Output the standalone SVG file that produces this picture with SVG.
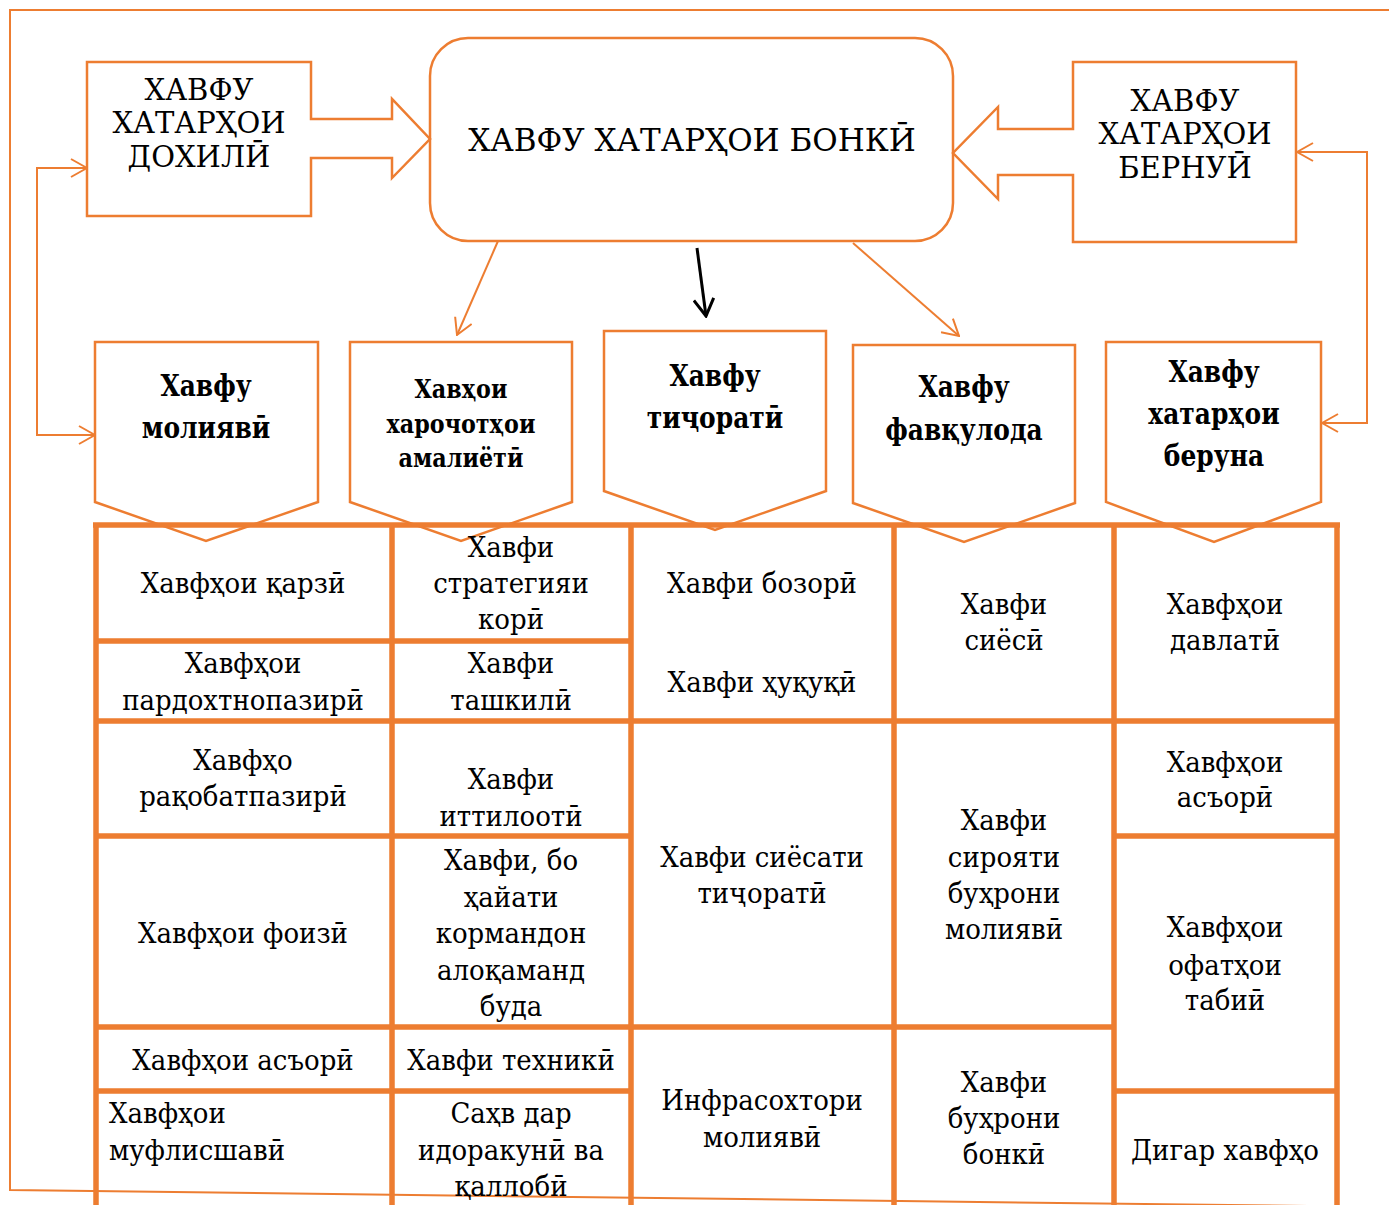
<svg xmlns="http://www.w3.org/2000/svg" width="1389" height="1205" viewBox="0 0 1389 1205">
<style>
.o{fill:none;stroke:#ED7D31;stroke-width:2.5}
.frame{fill:none;stroke:#ED7D31;stroke-width:2}
.tb{fill:none;stroke:#ED7D31;stroke-width:5.5}
text{font-family:'DejaVu Serif','Liberation Serif',serif;fill:#000}
.cap{font-size:29px;text-anchor:middle}
.hd{font-size:29px;font-weight:bold;text-anchor:middle}
.hs{font-size:26.5px;font-weight:bold;text-anchor:middle}
.c{font-size:28px;text-anchor:middle}
.cl{font-size:28px}
.con{fill:none;stroke:#ED7D31;stroke-width:2}
</style>
<defs>
<marker id="ah" viewBox="0 0 18 20" refX="17" refY="10" markerWidth="18" markerHeight="20" markerUnits="userSpaceOnUse" orient="auto-start-reverse">
<path d="M1,1 L17,10 L1,19" fill="none" stroke="#ED7D31" stroke-width="2"/>
</marker>
<marker id="ahb" viewBox="0 0 20 22" refX="18" refY="11" markerWidth="20" markerHeight="22" markerUnits="userSpaceOnUse" orient="auto">
<path d="M1,1 L18,11 L1,21" fill="none" stroke="#000" stroke-width="3"/>
</marker>
</defs>
<rect width="1389" height="1205" fill="#fff"/>
<g id="frame">
<path class="frame" d="M1389,10 H10 V1190 L1389,1207"/>
</g>
<g id="table">
<path class="tb" d="M96,525 V1205 M392,525 V1205 M631,525 V1205 M894,525 V1205 M1114,525 V1205 M1337,525 V1205"/>
<path class="tb" d="M93,525 H1340 M96,641 H631 M96,721 H1337 M96,836 H631 M1114,836 H1337 M96,1027 H1114 M96,1091 H631 M1114,1091 H1337"/>
</g>
<g id="node-bank">
<rect class="o" x="430" y="38" width="523" height="203" rx="38"/>
<text class="cap" x="692" y="151" style="font-size:31px">ХАВФУ ХАТАРҲОИ БОНКӢ</text>
</g>
<g id="node-internal">
<path class="o" d="M87,62 H311 V119 H392 V99 L430,139 L392,178 V158 H311 V216 H87 Z"/>
<text class="cap" x="199" y="100">ХАВФУ</text>
<text class="cap" x="199" y="133">ХАТАРҲОИ</text>
<text class="cap" x="199" y="167">ДОХИЛӢ</text>
</g>
<g id="node-external">
<path class="o" d="M1073,62 H1296 V242 H1073 V175 H998 V199 L953,153 L998,107 V129 H1073 Z"/>
<text class="cap" x="1185" y="111">ХАВФУ</text>
<text class="cap" x="1185" y="144">ХАТАРҲОИ</text>
<text class="cap" x="1185" y="178">БЕРНУӢ</text>
</g>
<g id="node-financial">
<path class="o" d="M95,342 H318 V502 L206,541 L95,502 Z"/>
<g transform="translate(206,0) scale(0.86,1)">
<text class="hd" x="0" y="396">Хавфу</text>
<text class="hd" x="0" y="438">молиявӣ</text>
</g>
</g>
<g id="node-operational">
<path class="o" d="M350,342 H572 V502 L461,541 L350,502 Z"/>
<g transform="translate(461,0) scale(0.84,1)">
<text class="hs" x="0" y="398">Хавҳои</text>
<text class="hs" x="0" y="433">харочотҳои</text>
<text class="hs" x="0" y="467">амалиётӣ</text>
</g>
</g>
<g id="node-commercial">
<path class="o" d="M604,331 H826 V491 L715,530 L604,491 Z"/>
<g transform="translate(715,0) scale(0.86,1)">
<text class="hd" x="0" y="386">Хавфу</text>
<text class="hd" x="0" y="428">тиҷоратӣ</text>
</g>
</g>
<g id="node-emergency">
<path class="o" d="M853,345 H1075 V503 L964,542 L853,503 Z"/>
<g transform="translate(964,0) scale(0.86,1)">
<text class="hd" x="0" y="397">Хавфу</text>
<text class="hd" x="0" y="440">фавқулода</text>
</g>
</g>
<g id="node-outer">
<path class="o" d="M1106,342 H1321 V502 L1214,542 L1106,502 Z"/>
<g transform="translate(1214,0) scale(0.86,1)">
<text class="hd" x="0" y="382">Хавфу</text>
<text class="hd" x="0" y="424">хатарҳои</text>
<text class="hd" x="0" y="466">беруна</text>
</g>
</g>
<g id="connectors">
<path class="con" d="M87,168 H37 V435 H95" marker-start="url(#ah)" marker-end="url(#ah)"/>
<path class="con" d="M1297,152 H1367 V423 H1322" marker-start="url(#ah)" marker-end="url(#ah)"/>
<path class="con" d="M498,241 L457,335" marker-end="url(#ah)"/>
<path class="con" d="M853,243 L959,336" marker-end="url(#ah)"/>
<path d="M697,248 L706,316" fill="none" stroke="#000" stroke-width="3" marker-end="url(#ahb)"/>
</g>
<g id="cells" transform="scale(0.93,1)">
<text class="c" x="261.3" y="593">Хавфҳои қарзӣ</text>
<text class="c" x="549.5" y="557">Хавфи</text>
<text class="c" x="549.5" y="593">стратегияи</text>
<text class="c" x="549.5" y="629">корӣ</text>
<text class="c" x="261.3" y="673">Хавфҳои</text>
<text class="c" x="261.3" y="710">пардохтнопазирӣ</text>
<text class="c" x="549.5" y="673">Хавфи</text>
<text class="c" x="549.5" y="710">ташкилӣ</text>
<text class="c" x="261.3" y="770">Хавфҳо</text>
<text class="c" x="261.3" y="806">рақобатпазирӣ</text>
<text class="c" x="549.5" y="789">Хавфи</text>
<text class="c" x="549.5" y="826">иттилоотӣ</text>
<text class="c" x="261.3" y="943">Хавфҳои фоизӣ</text>
<text class="c" x="549.5" y="870">Хавфи, бо</text>
<text class="c" x="549.5" y="907">ҳайати</text>
<text class="c" x="549.5" y="943">кормандон</text>
<text class="c" x="549.5" y="980">алоқаманд</text>
<text class="c" x="549.5" y="1016">буда</text>
<text class="c" x="261.3" y="1070">Хавфҳои асъорӣ</text>
<text class="c" x="549.5" y="1070">Хавфи техникӣ</text>
<text class="cl" x="117.2" y="1123">Хавфҳои</text>
<text class="cl" x="117.2" y="1160">муфлисшавӣ</text>
<text class="c" x="549.5" y="1123">Саҳв дар</text>
<text class="c" x="549.5" y="1160">идоракунӣ ва</text>
<text class="c" x="549.5" y="1196">қаллобӣ</text>
<text class="c" x="819.4" y="593">Хавфи бозорӣ</text>
<text class="c" x="819.4" y="692">Хавфи ҳуқуқӣ</text>
<text class="c" x="819.4" y="867">Хавфи сиёсати</text>
<text class="c" x="819.4" y="903">тиҷоратӣ</text>
<text class="c" x="819.4" y="1110">Инфрасохтори</text>
<text class="c" x="819.4" y="1147">молиявӣ</text>
<text class="c" x="1079.6" y="614">Хавфи</text>
<text class="c" x="1079.6" y="650">сиёсӣ</text>
<text class="c" x="1079.6" y="830">Хавфи</text>
<text class="c" x="1079.6" y="867">сирояти</text>
<text class="c" x="1079.6" y="903">буҳрони</text>
<text class="c" x="1079.6" y="939">молиявӣ</text>
<text class="c" x="1079.6" y="1092">Хавфи</text>
<text class="c" x="1079.6" y="1128">буҳрони</text>
<text class="c" x="1079.6" y="1164">бонкӣ</text>
<text class="c" x="1317.2" y="614">Хавфҳои</text>
<text class="c" x="1317.2" y="650">давлатӣ</text>
<text class="c" x="1317.2" y="772">Хавфҳои</text>
<text class="c" x="1317.2" y="807">асъорӣ</text>
<text class="c" x="1317.2" y="937">Хавфҳои</text>
<text class="c" x="1317.2" y="975">офатҳои</text>
<text class="c" x="1317.2" y="1010">табиӣ</text>
<text class="c" x="1317.2" y="1160">Дигар хавфҳо</text>
</g>
</svg>
